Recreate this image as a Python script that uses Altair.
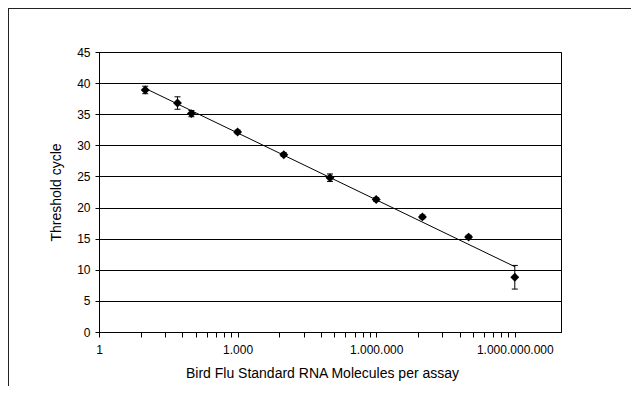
import altair as alt
import numpy as np
import pandas as pd

# Data
molecules = [10, 50, 100, 1e3, 1e4, 1e5, 1e6, 1e7, 1e8, 1e9]
ct = [38.9, 36.8, 35.1, 32.15, 28.5, 24.8, 21.3, 18.5, 15.25, 8.8]
ct_err = [0.6, 1.0, 0.5, 0.3, 0.3, 0.6, 0.3, 0.3, 0.3, 1.9]

major_ticks = [1, 1000, 1000000, 1000000000]
major_labels = ["1", "1.000", "1.000.000", "1.000.000.000"]
minor_ticks = [float(k ** 3 * 1000 ** n) for n in range(3) for k in range(2, 10)]
y_ticks = list(range(0, 50, 5))

W, H = 462, 280
PAD = {"left": 91, "top": 44, "right": 70, "bottom": 54}

df = pd.DataFrame({
    "x": molecules,
    "y": ct,
    "lo": [c - e for c, e in zip(ct, ct_err)],
    "hi": [c + e for c, e in zip(ct, ct_err)],
})

# least-squares trend line on log10(x)
slope, intercept = np.polyfit(np.log10(molecules), ct, 1)
trend_x = [molecules[0], molecules[-1]]
trend = pd.DataFrame({"x": trend_x,
                      "y": [slope * np.log10(v) + intercept for v in trend_x]})

label_expr = ""
for v, lab in zip(major_ticks, major_labels):
    label_expr += f"datum.value == {v} ? '{lab}' : "
label_expr += "''"

x_enc = alt.X(
    "x:Q",
    scale=alt.Scale(type="log", domain=[1, 1e10], nice=False),
    axis=alt.Axis(
        values=sorted([float(v) for v in major_ticks] + minor_ticks),
        labelExpr=label_expr,
        labelOverlap=False,
        labelFlush=False,
        grid=False,
        tickSize=5,
        labelPadding=7,
        title="Bird Flu Standard RNA Molecules per assay",
        titleFontSize=14,
        titleX=223,
        titleY=41,
        titleBaseline="middle",
        titleAlign="center",
    ),
)

y_axis = alt.Axis(
    values=y_ticks,
    grid=True,
    gridColor="#000000",
    gridWidth=1,
    tickSize=4,
    labelPadding=5,
    title="Threshold cycle",
    titleFontSize=14,
    titleX=-42.5,
    titleY=H / 2,
    titleAngle=270,
    titleBaseline="middle",
    titleAlign="center",
)
y_scale = alt.Scale(domain=[0, 45], nice=False)

base = alt.Chart(df)
one = pd.DataFrame({"a": [0]})

# outer frame (only left and top edges are within the picture), as thin filled bars
frame_left = alt.Chart(one).mark_rect(color="#222222", strokeWidth=0).encode(
    x=alt.value(-PAD["left"]), x2=alt.value(-PAD["left"] + 1),
    y=alt.value(-PAD["top"]), y2=alt.value(H + PAD["bottom"]),
)
frame_top = alt.Chart(one).mark_rect(color="#222222", strokeWidth=0).encode(
    x=alt.value(-PAD["left"]), x2=alt.value(W + PAD["right"]),
    y=alt.value(-PAD["top"]), y2=alt.value(-PAD["top"] + 1),
)

rules = base.mark_rule(color="black", strokeWidth=1).encode(
    x=x_enc,
    y=alt.Y("lo:Q", scale=y_scale, axis=y_axis),
    y2="hi:Q",
)
cap_lo = base.mark_tick(orient="horizontal", color="black", size=6, thickness=1, opacity=1).encode(
    x=x_enc, y=alt.Y("lo:Q", scale=y_scale, axis=y_axis)
)
cap_hi = base.mark_tick(orient="horizontal", color="black", size=6, thickness=1, opacity=1).encode(
    x=x_enc, y=alt.Y("hi:Q", scale=y_scale, axis=y_axis)
)
line = alt.Chart(trend).mark_line(color="black", strokeWidth=1).encode(
    x=x_enc, y=alt.Y("y:Q", scale=y_scale, axis=y_axis)
)
points = base.mark_point(shape="diamond", filled=True, size=80, color="black", opacity=1).encode(
    x=x_enc, y=alt.Y("y:Q", scale=y_scale, axis=y_axis)
)

chart = alt.layer(rules, cap_lo, cap_hi, line, points, frame_left, frame_top).properties(
    width=W,
    height=H,
    autosize=alt.AutoSizeParams(type="none"),
    padding=PAD,
).configure_view(
    stroke="#000000", strokeWidth=1
).configure_axis(
    domainColor="#000000",
    tickColor="#000000",
    labelColor="#000000",
    titleColor="#000000",
    labelFont="Liberation Sans",
    titleFont="Liberation Sans",
    labelFontSize=12,
    titleFontWeight="normal",
)

chart.save("out.html", embed_options={"renderer": "svg", "actions": False})
